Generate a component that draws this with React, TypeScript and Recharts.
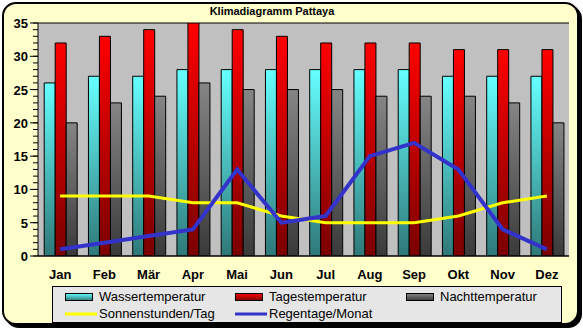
import { ComposedChart, Bar, Line, XAxis, YAxis, CartesianGrid, Legend } from 'recharts'

const MONTHS = ['Jan', 'Feb', 'Mär', 'Apr', 'Mai', 'Jun', 'Jul', 'Aug', 'Sep', 'Okt', 'Nov', 'Dez']
const WASSER = [26, 27, 27, 28, 28, 28, 28, 28, 28, 27, 27, 27]
const TAGES = [32, 33, 34, 35, 34, 33, 32, 32, 32, 31, 31, 31]
const NACHT = [20, 23, 24, 26, 25, 25, 25, 24, 24, 24, 23, 20]
const SONNE = [9, 9, 9, 8, 8, 6, 5, 5, 5, 6, 8, 9]
const REGEN = [1, 2, 3, 4, 13, 5, 6, 15, 17, 13, 4, 1]
const Y_TICKS = Array.from({ length: 36 }, (_, i) => i)
const Y_MAJOR = [0, 5, 10, 15, 20, 25, 30, 35]
const MONTH_BOUNDS = Array.from({ length: 13 }, (_, i) => i)

const FONT = '"Liberation Sans", Arial, sans-serif'

const data = MONTHS.map((month, i) => ({
  month,
  wasser: WASSER[i],
  tages: TAGES[i],
  nacht: NACHT[i],
  sonne: SONNE[i],
  regen: REGEN[i],
}))

const LEGEND_ITEMS = [
  { label: 'Wassertemperatur', kind: 'bar', fill: 'url(#gWasser)' },
  { label: 'Tagestemperatur', kind: 'bar', fill: 'url(#gTages)' },
  { label: 'Nachttemperatur', kind: 'bar', fill: 'url(#gNacht)' },
  { label: 'Sonnenstunden/Tag', kind: 'line', fill: '#ffff00' },
  { label: 'Regentage/Monat', kind: 'line', fill: '#3333cc' },
]

function YTick(props: any) {
  const { x, y, payload } = props
  if (payload.value % 5 !== 0) return null
  return (
    <g>
      <line x1={x + 2} x2={x + 10} y1={y} y2={y} stroke="#000" />
      <text x={x} y={y} dy={5} textAnchor="end" fontFamily={FONT} fontWeight="bold" fontSize={13} fill="#000">
        {payload.value}
      </text>
    </g>
  )
}

function LegendBox() {
  return (
    <div
      style={{
        boxSizing: 'border-box',
        width: 510,
        height: 37,
        border: '1px solid #000',
        background: '#e6e6e6',
        display: 'grid',
        gridTemplateColumns: '170px 171px 169px',
        gridTemplateRows: '17px 17px',
        paddingLeft: 12,
        paddingTop: 1,
        fontFamily: FONT,
        fontSize: 13,
        color: '#000',
      }}
    >
      {LEGEND_ITEMS.map((it) => (
        <div key={it.label} style={{ display: 'flex', alignItems: 'center', lineHeight: '17px' }}>
          <svg width={32} height={10} style={{ marginRight: 2 }}>
            {it.kind === 'bar' ? (
              <rect x={0.5} y={1.5} width={27} height={7} fill={it.fill} stroke="#000" />
            ) : (
              <line x1={0} x2={32} y1={5} y2={5} stroke={it.fill} strokeWidth={3} />
            )}
          </svg>
          {it.label}
        </div>
      ))}
    </div>
  )
}

export default function App() {
  return (
    <div style={{ position: 'fixed', left: 0, top: 0, width: 583, height: 330, background: '#fff' }}>
      <div
        style={{
          position: 'absolute',
          left: 2,
          top: 2,
          width: 577,
          height: 323,
          boxSizing: 'border-box',
          border: '2px solid #000',
          borderRadius: 14,
          background: '#ffffcc',
          boxShadow: '3px 3px 0 #000',
        }}
      />
      <div
        style={{
          position: 'absolute',
          left: 172,
          width: 200,
          top: 5,
          textAlign: 'center',
          fontFamily: FONT,
          fontWeight: 'bold',
          fontSize: 11,
          color: '#000',
        }}
      >
        Klimadiagramm Pattaya
      </div>
      <div style={{ position: 'absolute', left: 0, top: 0 }}>
        <ComposedChart
          width={583}
          height={330}
          data={data}
          margin={{ top: 23, right: 14, left: 0, bottom: 7 }}
          barCategoryGap="14%"
          barGap={0}
        >
          <defs>
            <linearGradient id="gWasser" x1="0" y1="0" x2="0" y2="1">
              <stop offset="0%" stopColor="#66ffff" />
              <stop offset="100%" stopColor="#2f7878" />
            </linearGradient>
            <linearGradient id="gTages" x1="0" y1="0" x2="0" y2="1">
              <stop offset="0%" stopColor="#ff0000" />
              <stop offset="100%" stopColor="#7a0000" />
            </linearGradient>
            <linearGradient id="gNacht" x1="0" y1="0" x2="0" y2="1">
              <stop offset="0%" stopColor="#858585" />
              <stop offset="100%" stopColor="#3a3a3a" />
            </linearGradient>
          </defs>
          <CartesianGrid vertical={false} xAxisId="m" yAxisId="r" fill="#c0c0c0" stroke="#000" strokeOpacity={1} />
          <XAxis
            xAxisId="grid"
            type="number"
            domain={[0, 12]}
            ticks={MONTH_BOUNDS}
            tick={false}
            tickSize={5}
            height={5}
            stroke="#000"
            allowDataOverflow
          />
          <XAxis
            xAxisId="m"
            dataKey="month"
            axisLine={false}
            tickLine={false}
            tickSize={0}
            tickMargin={9}
            height={25}
            interval={0}
            tick={{ fontFamily: FONT, fontWeight: 'bold', fontSize: 13, fill: '#000' }}
          />
          <YAxis
            domain={[0, 35]}
            ticks={Y_TICKS}
            interval={0}
            width={38}
            tickSize={5}
            tickMargin={5}
            stroke="#000"
            tick={<YTick />}
            allowDataOverflow
          />
          <YAxis
            yAxisId="r"
            orientation="right"
            domain={[0, 35]}
            ticks={Y_MAJOR}
            interval={0}
            width={0}
            tick={false}
            tickLine={false}
            stroke="#000"
            allowDataOverflow
          />
          <Legend verticalAlign="bottom" content={() => <LegendBox />} wrapperStyle={{ left: 52, width: 510, height: 37 }} />
          <Bar xAxisId="m" dataKey="wasser" fill="url(#gWasser)" stroke="#000" isAnimationActive={false} />
          <Bar xAxisId="m" dataKey="tages" fill="url(#gTages)" stroke="#000" isAnimationActive={false} />
          <Bar xAxisId="m" dataKey="nacht" fill="url(#gNacht)" stroke="#000" isAnimationActive={false} />
          <Line xAxisId="m" type="linear" dataKey="sonne" stroke="#ffff00" strokeWidth={3} dot={false} isAnimationActive={false} />
          <Line xAxisId="m" type="linear" dataKey="regen" stroke="#3333cc" strokeWidth={4} dot={false} isAnimationActive={false} />
        </ComposedChart>
      </div>
    </div>
  )
}
